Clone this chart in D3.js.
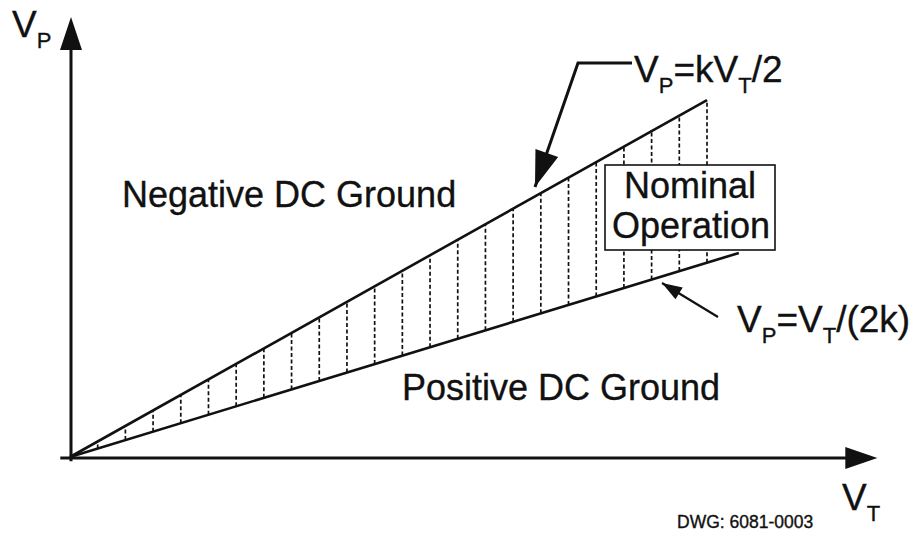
<!DOCTYPE html>
<html>
<head>
<meta charset="utf-8">
<script src="https://cdn.jsdelivr.net/npm/d3@7"></script>
<style>
  html, body { margin: 0; padding: 0; background: #fff; }
  svg { display: block; font-family: "Liberation Sans", Arial, sans-serif; }
  text { fill: #111; stroke: #111; stroke-width: 0.35; }
</style>
</head>
<body>
<svg width="909" height="533"></svg>
<script>
// boundary lines of the operating region (VT, VP)
const upperLine = [[0, 0], [23, 12.98]];   // VP = kVT/2
const lowerLine = [[0, 0], [24.15, 7.42]]; // VP = VT/(2k)
// positions of the dashed hatch lines along VT
const hatchVT = [1, 2, 3, 4, 5, 6, 7, 8, 9, 10, 11, 12, 13, 14, 15, 16, 17, 18, 19, 20, 21, 22, 23];
// axis extents
const xAxisExtent = [-0.35, 29.15];
const yAxisExtent = [-0.15, 16];

const svg = d3.select('svg');

const x = d3.scaleLinear().domain([0, 23]).range([70, 707]);
const y = d3.scaleLinear().domain([0, 16]).range([457, 17]);

const ink = '#111';

// VP on a boundary line at a given VT
function onLine(line, vt) {
  const slope = line[1][1] / line[1][0];
  return slope * vt;
}

// hatch lines
svg.append('g')
  .attr('class', 'hatch')
  .selectAll('line')
  .data(hatchVT)
  .enter()
  .append('line')
  .attr('x1', d => x(d))
  .attr('x2', d => x(d))
  .attr('y1', d => y(onLine(lowerLine, d)))
  .attr('y2', d => y(onLine(upperLine, d)))
  .attr('stroke', ink)
  .attr('stroke-width', 1.7)
  .attr('stroke-dasharray', '4 2.5');

// boundary lines
const line = d3.line().x(d => x(d[0])).y(d => y(d[1]));
svg.append('g')
  .attr('class', 'bounds')
  .selectAll('path')
  .data([upperLine, lowerLine])
  .enter()
  .append('path')
  .attr('d', line)
  .attr('fill', 'none')
  .attr('stroke', ink)
  .attr('stroke-width', 2.6);

// axes
function arrowHead(tip, dir, len, half) {
  const [ux, uy] = dir;
  const bx = tip[0] - ux * len, by = tip[1] - uy * len;
  return [tip, [bx - uy * half, by + ux * half], [bx + uy * half, by - ux * half]];
}
const axes = svg.append('g').attr('class', 'axes');
const x0 = x(0) + 1, y0 = y(0) + 1;
axes.append('line')
  .attr('x1', x(xAxisExtent[0])).attr('x2', x(xAxisExtent[1]) - 20)
  .attr('y1', y0).attr('y2', y0)
  .attr('stroke', ink).attr('stroke-width', 3);
axes.append('line')
  .attr('x1', x0).attr('x2', x0)
  .attr('y1', y(yAxisExtent[0])).attr('y2', y(yAxisExtent[1]) + 20)
  .attr('stroke', ink).attr('stroke-width', 3);
axes.append('polygon')
  .attr('points', arrowHead([x(xAxisExtent[1]), y0], [1, 0], 32, 11).join(' '))
  .attr('fill', ink);
axes.append('polygon')
  .attr('points', arrowHead([x0, y(yAxisExtent[1])], [0, -1], 33, 11).join(' '))
  .attr('fill', ink);

// Nominal Operation box
const box = svg.append('g').attr('class', 'box');
box.append('rect')
  .attr('x', 605).attr('y', 165).attr('width', 170).attr('height', 85)
  .attr('fill', '#fff').attr('stroke', ink).attr('stroke-width', 1.6);
box.append('text').attr('x', 690).attr('y', 198)
  .attr('text-anchor', 'middle').attr('font-size', 36).text('Nominal');
box.append('text').attr('x', 691).attr('y', 238)
  .attr('text-anchor', 'middle').attr('font-size', 36).text('Operation');

// region labels
svg.append('text').attr('x', 122).attr('y', 207).attr('font-size', 36)
  .text('Negative DC Ground');
svg.append('text').attr('x', 402).attr('y', 400).attr('font-size', 36)
  .text('Positive DC Ground');

// subscripted label helper: parts = [[text, isSub], ...]
function label(px, py, parts, size, subSize) {
  const t = svg.append('text').attr('x', px).attr('y', py).attr('font-size', size);
  let low = false;
  parts.forEach(([s, sub]) => {
    const span = t.append('tspan').text(s);
    if (sub && !low) { span.attr('dy', 11).attr('font-size', subSize); low = true; }
    else if (sub) { span.attr('font-size', subSize); }
    else if (low) { span.attr('dy', -11); low = false; }
  });
  return t;
}

label(12, 37, [['V'], ['P', true]], 37, 22);
label(842, 510, [['V'], ['T', true]], 37, 22);
label(634, 82, [['V'], ['P', true], ['=kV'], ['T', true], ['/2']], 37, 22);
label(737, 332, [['V'], ['P', true], ['=V'], ['T', true], ['/(2k)']], 37, 22);

svg.append('text').attr('x', 677).attr('y', 528).attr('font-size', 17.5)
  .attr('stroke-width', 0.2)
  .text('DWG: 6081-0003');

// leader to upper boundary
const upTip = [535, 187];
const elbow = [578, 63];
svg.append('polyline')
  .attr('points', [[632, 63], elbow, upTip].join(' '))
  .attr('fill', 'none').attr('stroke', ink).attr('stroke-width', 3);
{
  const dx = upTip[0] - elbow[0], dy = upTip[1] - elbow[1];
  const l = Math.hypot(dx, dy);
  svg.append('polygon')
    .attr('points', arrowHead(upTip, [dx / l, dy / l], 36, 12).join(' '))
    .attr('fill', ink);
}

// leader to lower boundary
const loTip = [662, 283];
const loTail = [718, 317];
svg.append('line')
  .attr('x1', loTail[0]).attr('y1', loTail[1]).attr('x2', loTip[0]).attr('y2', loTip[1])
  .attr('stroke', ink).attr('stroke-width', 2.2);
{
  const dx = loTip[0] - loTail[0], dy = loTip[1] - loTail[1];
  const l = Math.hypot(dx, dy);
  svg.append('polygon')
    .attr('points', arrowHead(loTip, [dx / l, dy / l], 20, 7).join(' '))
    .attr('fill', ink);
}
</script>
</body>
</html>
